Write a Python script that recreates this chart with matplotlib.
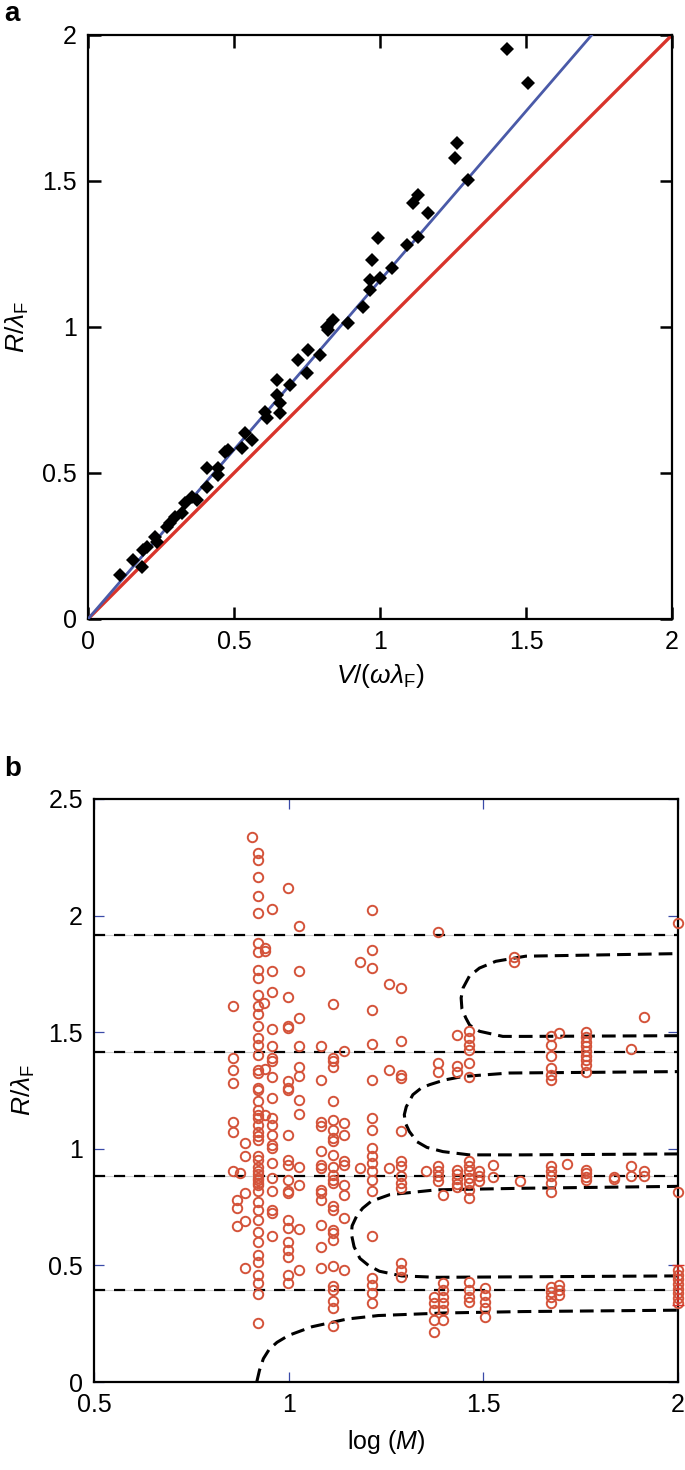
import matplotlib
matplotlib.use('Agg')
import matplotlib.pyplot as plt

plt.rcParams['font.family'] = ['Liberation Sans', 'DejaVu Sans']
plt.rcParams['mathtext.fontset'] = 'custom'
plt.rcParams['mathtext.rm'] = 'Liberation Sans'
plt.rcParams['mathtext.it'] = 'Liberation Sans:italic'

# panel a: measured points
a_v = [0.110, 0.155, 0.184, 0.190, 0.201, 0.229, 0.235, 0.269, 0.281, 0.298,
       0.321, 0.332, 0.355, 0.372, 0.406, 0.406, 0.446, 0.446, 0.469, 0.481,
       0.526, 0.538, 0.561, 0.606, 0.612, 0.646, 0.646, 0.658, 0.658, 0.692,
       0.720, 0.755, 0.749, 0.795, 0.823, 0.817, 0.840, 0.891, 0.943, 0.966,
       0.966, 0.971, 0.994, 1.000, 1.040, 1.091, 1.131, 1.114, 1.131, 1.166,
       1.257, 1.265, 1.302, 1.434, 1.508]
a_r = [0.151, 0.202, 0.179, 0.236, 0.248, 0.282, 0.265, 0.316, 0.328, 0.350,
       0.362, 0.396, 0.419, 0.408, 0.516, 0.453, 0.493, 0.516, 0.573, 0.579,
       0.585, 0.636, 0.613, 0.710, 0.687, 0.818, 0.767, 0.739, 0.704, 0.801,
       0.887, 0.921, 0.841, 0.904, 0.990, 1.001, 1.024, 1.013, 1.070, 1.127,
       1.161, 1.229, 1.304, 1.168, 1.201, 1.281, 1.309, 1.424, 1.452, 1.389,
       1.578, 1.629, 1.503, 1.951, 1.834]

# panel a: lines
fit_v = [0.0, 1.725]
fit_r = [0.0, 2.0]
equal_v = [0.0, 2.0]
equal_r = [0.0, 2.0]

# panel b: measured points, one list per log(M) column
col_logm = [0.857, 0.875, 0.887, 0.868, 0.907, 0.920, 0.936, 0.940, 0.957, 0.998,
            1.027, 1.084, 1.114, 1.142, 1.184, 1.215, 1.257, 1.289, 1.354, 1.383,
            1.374, 1.396, 1.432, 1.464, 1.490, 1.505, 1.525, 1.580, 1.595, 1.673,
            1.695, 1.716, 1.763, 1.835, 1.880, 1.913, 2.000]
col_r = [
    [1.611, 1.390, 1.339, 1.282, 1.117, 1.070, 0.906],
    [0.896],
    [1.024, 0.967, 0.810, 0.689, 0.489],
    [0.782, 0.746, 0.667],
    [2.336],
    [2.269, 2.237, 2.166, 2.083, 2.012, 1.883, 1.843, 1.768, 1.733, 1.661,
     1.611, 1.579, 1.525, 1.475, 1.446, 1.403, 1.339, 1.325, 1.260, 1.253,
     1.203, 1.167, 1.146, 1.132, 1.103, 1.074, 1.053, 1.039, 0.967, 0.953,
     0.924, 0.903, 0.890, 0.875, 0.867, 0.853, 0.846, 0.817, 0.774, 0.738,
     0.695, 0.645, 0.602, 0.545, 0.516, 0.459, 0.424, 0.378, 0.252],
    [1.627],
    [1.862, 1.848, 1.342, 1.146],
    [2.030, 1.764, 1.672, 1.515, 1.439, 1.390, 1.376, 1.308, 1.218, 1.132,
     1.103, 1.060, 1.017, 1.003, 0.939, 0.875, 0.817, 0.738, 0.724, 0.624],
    [2.119, 1.651, 1.525, 1.518, 1.289, 1.260, 1.253, 1.060, 0.953, 0.932,
     0.867, 0.817, 0.810, 0.695, 0.660, 0.602, 0.567, 0.538, 0.459, 0.424],
    [1.954, 1.764, 1.563, 1.439, 1.349, 1.313, 1.210, 1.149, 0.924, 0.846,
     0.656, 0.481],
    [1.439, 1.295, 1.117, 1.096, 0.989, 0.932, 0.918, 0.824, 0.810, 0.781,
     0.674, 0.581, 0.489],
    [1.621, 1.390, 1.376, 1.350, 1.203, 1.124, 1.082, 1.046, 1.032, 0.974,
     0.924, 0.889, 0.867, 0.853, 0.753, 0.738, 0.653, 0.638, 0.610, 0.496,
     0.410, 0.396, 0.346, 0.317, 0.239],
    [1.418, 1.110, 1.060, 0.946, 0.932, 0.846, 0.803, 0.703, 0.481],
    [1.801, 0.918],
    [2.026, 1.852, 1.776, 1.597, 1.449, 1.296, 1.132, 1.082, 1.003, 0.967,
     0.939, 0.903, 0.867, 0.817, 0.624, 0.446, 0.417, 0.382, 0.339],
    [1.706, 1.339, 0.918],
    [1.689, 1.461, 1.318, 1.303, 1.075, 0.946, 0.925, 0.882, 0.853, 0.832,
     0.509, 0.481, 0.452],
    [0.903],
    [1.928, 1.367, 1.331, 0.925, 0.903, 0.882, 0.860],
    [0.366, 0.338, 0.309, 0.266, 0.216],
    [0.800, 0.424, 0.395, 0.366, 0.338, 0.309, 0.266],
    [1.489, 1.353, 1.331, 0.910, 0.890, 0.870, 0.850, 0.835],
    [1.504, 1.476, 1.447, 1.422, 1.370, 1.310, 0.946, 0.925, 0.903, 0.875,
     0.853, 0.825, 0.790, 0.430, 0.395, 0.366, 0.345],
    [0.903, 0.882, 0.860],
    [0.402, 0.373, 0.345, 0.316, 0.280],
    [0.932, 0.878],
    [1.823, 1.801],
    [0.862],
    [1.482, 1.446, 1.396, 1.346, 1.318, 1.296, 0.925, 0.903, 0.882, 0.853,
     0.815, 0.409, 0.388, 0.366, 0.338],
    [1.496, 0.416, 0.395, 0.373],
    [0.935],
    [1.503, 1.480, 1.460, 1.440, 1.420, 1.400, 1.380, 1.360, 1.330, 0.910,
     0.895, 0.880, 0.865],
    [0.878, 0.872],
    [1.427, 0.925, 0.882],
    [1.565, 0.903, 0.882],
    [1.968, 0.816, 0.480, 0.460, 0.440, 0.420, 0.400, 0.380, 0.360, 0.340],
]

# error bar on the right edge of panel b
err_logm = [2.0]
err_r = [0.415]
err_dr = [0.085]

# horizontal levels
levels_r = [0.395, 0.885, 1.415, 1.915]

# theory branches
curve1_x = [0.918, 0.925, 0.935, 0.950, 0.970, 1.000, 1.060, 1.150, 1.230, 1.400, 1.600, 2.000]
curve1_y = [0.000, 0.050, 0.100, 0.140, 0.170, 0.200, 0.237, 0.270, 0.285, 0.296, 0.302, 0.308]
curve2_x = [2.000, 1.600, 1.380, 1.290, 1.233, 1.205, 1.183, 1.168, 1.161, 1.163, 1.175, 1.190,
            1.212, 1.259, 1.379, 1.610, 2.000]
curve2_y = [0.455, 0.451, 0.449, 0.455, 0.475, 0.500, 0.530, 0.580, 0.635, 0.670, 0.713, 0.745,
            0.775, 0.803, 0.824, 0.831, 0.839]
curve3_x = [2.000, 1.600, 1.464, 1.396, 1.355, 1.330, 1.310, 1.300, 1.297, 1.302, 1.319, 1.340,
            1.362, 1.400, 1.447, 1.567, 2.000]
curve3_y = [0.978, 0.974, 0.974, 0.988, 1.006, 1.030, 1.074, 1.110, 1.146, 1.180, 1.232, 1.260,
            1.275, 1.295, 1.310, 1.325, 1.331]
curve4_x = [2.000, 1.609, 1.550, 1.490, 1.465, 1.455, 1.445, 1.443, 1.448, 1.464, 1.490, 1.532,
            1.609, 2.000]
curve4_y = [1.485, 1.482, 1.482, 1.504, 1.530, 1.561, 1.600, 1.647, 1.690, 1.740, 1.775, 1.804,
            1.826, 1.837]

a_ticks = [0, 0.5, 1, 1.5, 2]
a_ticklabels = ['0', '0.5', '1', '1.5', '2']
b_xticks = [0.5, 1, 1.5, 2]
b_xticklabels = ['0.5', '1', '1.5', '2']
b_yticks = [0, 0.5, 1, 1.5, 2, 2.5]
b_yticklabels = ['0', '0.5', '1', '1.5', '2', '2.5']

RED = '#d8342b'
BLUE = '#4a5aa8'
ORANGE = '#d4533a'
TICKBLUE = '#3a4aa8'


def plot_a(ax):
    ax.plot(equal_v, equal_r, color=RED, lw=2.4, zorder=2)
    ax.plot(fit_v, fit_r, color=BLUE, lw=2.0, zorder=3)
    ax.plot(a_v, a_r, 'D', color='black', ms=7, mew=0, zorder=4)
    ax.set_xlim(0, 2)
    ax.set_ylim(0, 2)
    ax.set_xticks(a_ticks)
    ax.set_xticklabels(a_ticklabels)
    ax.set_yticks(a_ticks)
    ax.set_yticklabels(a_ticklabels)
    ax.tick_params(direction='in', length=9, width=1.8, color='black',
                   top=True, right=True, labelsize=18, pad=8)
    for s in ax.spines.values():
        s.set_linewidth(1.6)
    ax.set_xlabel(r'$V/(\omega\lambda_{\mathrm{F}})$', fontsize=19, labelpad=6)
    ax.set_ylabel(r'$R/\lambda_{\mathrm{F}}$', fontsize=19, labelpad=8)


def plot_b(ax):
    for lev in levels_r:
        ax.axhline(lev, color='#d0d0d0', lw=0.8, zorder=1)
        ax.axhline(lev, color='black', lw=1.6, ls=(0, (5, 4)), zorder=2)
    for cx, cy in [(curve1_x, curve1_y), (curve2_x, curve2_y),
                   (curve3_x, curve3_y), (curve4_x, curve4_y)]:
        ax.plot(cx, cy, color='black', lw=2.2, ls=(0, (4.5, 2.3)), zorder=3)
    xs = []
    ys = []
    for x, rs in zip(col_logm, col_r):
        xs += [x] * len(rs)
        ys += rs
    ax.plot(xs, ys, 'o', mfc='none', mec=ORANGE, ms=6.8, mew=1.4, zorder=4,
            clip_on=False)
    ax.errorbar(err_logm, err_r, yerr=err_dr, fmt='none', ecolor=RED,
                elinewidth=1.2, capsize=4, zorder=5, clip_on=False)
    ax.set_xlim(0.5, 2)
    ax.set_ylim(0, 2.5)
    ax.set_xticks(b_xticks)
    ax.set_xticklabels(b_xticklabels)
    ax.set_yticks(b_yticks)
    ax.set_yticklabels(b_yticklabels)
    ax.tick_params(direction='in', length=7, width=0.9, color=TICKBLUE,
                   top=True, right=True, labelsize=18, pad=8)
    for s in ax.spines.values():
        s.set_linewidth(1.6)
    ax.set_xlabel(r'log ($M$)', fontsize=18, labelpad=8)
    ax.set_ylabel(r'$R/\lambda_{\mathrm{F}}$', fontsize=19, labelpad=8)


def main():
    fig = plt.figure(figsize=(6.85, 14.7), dpi=100)
    ax_a = fig.add_axes([88 / 685, 1 - 619 / 1470, 584 / 685, 584 / 1470])
    ax_b = fig.add_axes([94 / 685, 1 - 1382 / 1470, 584 / 685, 583 / 1470])
    plot_a(ax_a)
    plot_b(ax_b)
    fig.text(0.006, 0.999, 'a', fontsize=20, fontweight='bold', va='top')
    fig.text(0.006, 1 - 756 / 1470, 'b', fontsize=20, fontweight='bold', va='top')
    fig.savefig('out.png', dpi=100)


if __name__ == "__main__":
    main()
